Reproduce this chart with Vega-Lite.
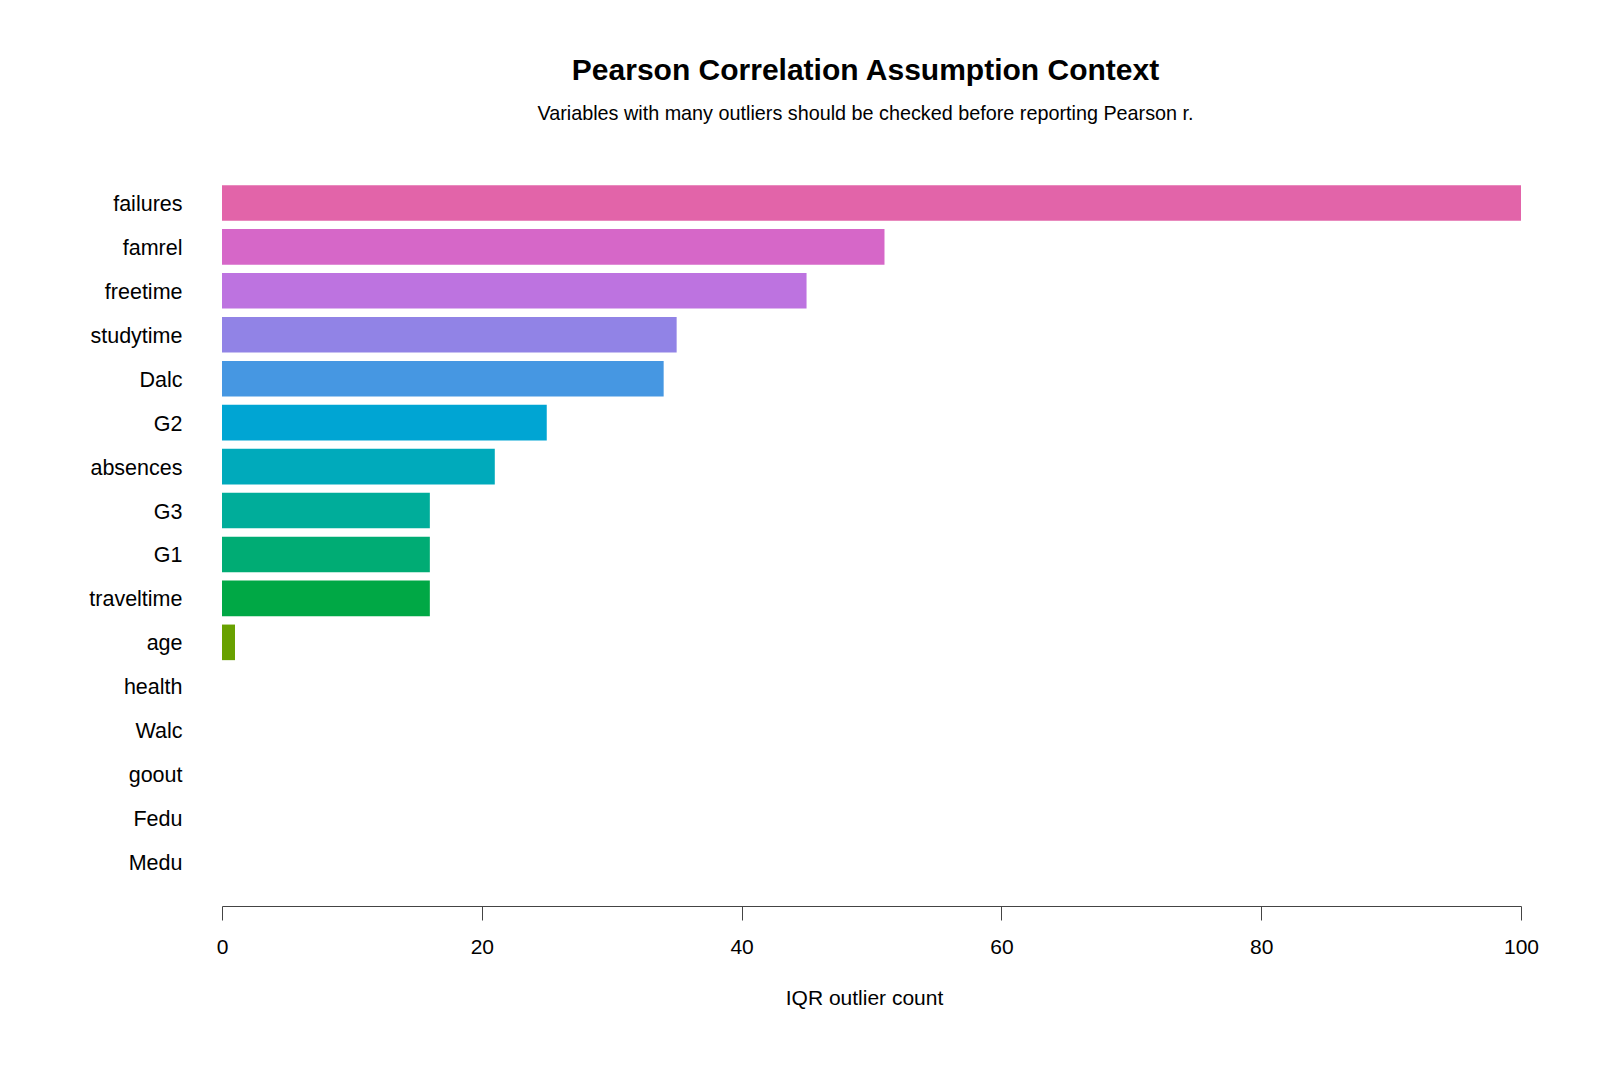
{
  "$schema": "https://vega.github.io/schema/vega-lite/v6.json",
  "autosize": {"type": "none"},
  "padding": {"left": 222, "top": 159, "right": 79, "bottom": 185},
  "width": 1299,
  "height": 747,
  "background": "white",
  "title": {
    "text": "Pearson Correlation Assumption Context",
    "subtitle": "Variables with many outliers should be checked before reporting Pearson r.",
    "anchor": "middle",
    "frame": "group",
    "dx": -6,
    "offset": 35,
    "font": "Liberation Sans",
    "fontSize": 30,
    "fontWeight": "bold",
    "color": "black",
    "subtitleFont": "Liberation Sans",
    "subtitleFontSize": 19.8,
    "subtitleColor": "black",
    "subtitlePadding": 18
  },
  "data": {
    "values": [
      {"variable": "failures", "count": 100, "rank": 1},
      {"variable": "famrel", "count": 51, "rank": 2},
      {"variable": "freetime", "count": 45, "rank": 3},
      {"variable": "studytime", "count": 35, "rank": 4},
      {"variable": "Dalc", "count": 34, "rank": 5},
      {"variable": "G2", "count": 25, "rank": 6},
      {"variable": "absences", "count": 21, "rank": 7},
      {"variable": "G3", "count": 16, "rank": 8},
      {"variable": "G1", "count": 16, "rank": 9},
      {"variable": "traveltime", "count": 16, "rank": 10},
      {"variable": "age", "count": 1, "rank": 11},
      {"variable": "health", "count": 0, "rank": 12},
      {"variable": "Walc", "count": 0, "rank": 13},
      {"variable": "goout", "count": 0, "rank": 14},
      {"variable": "Fedu", "count": 0, "rank": 15},
      {"variable": "Medu", "count": 0, "rank": 16}
    ]
  },
  "mark": {"type": "bar"},
  "encoding": {
    "y": {
      "field": "variable",
      "type": "nominal",
      "sort": {"field": "rank", "order": "ascending"},
      "scale": {"paddingInner": 0.19, "paddingOuter": 0.595},
      "axis": {
        "title": null,
        "domain": false,
        "ticks": false,
        "labelPadding": 40,
        "labelOffset": 2,
        "labelFont": "Liberation Sans",
        "labelFontSize": 21.5,
        "labelColor": "black"
      }
    },
    "x": {
      "field": "count",
      "type": "quantitative",
      "scale": {"domain": [0, 100], "nice": false, "zero": true},
      "axis": {
        "title": "IQR outlier count",
        "titleX": 642,
        "values": [0, 20, 40, 60, 80, 100],
        "grid": false,
        "labelFlush": false,
        "domainColor": "#444444",
        "tickColor": "#444444",
        "tickSize": 14,
        "labelPadding": 16,
        "labelFont": "Liberation Sans",
        "labelFontSize": 21,
        "labelColor": "black",
        "titleFont": "Liberation Sans",
        "titleFontSize": 21,
        "titleFontWeight": "normal",
        "titleColor": "black",
        "titlePadding": 30
      }
    },
    "color": {
      "field": "variable",
      "type": "nominal",
      "legend": null,
      "scale": {
        "domain": ["failures", "famrel", "freetime", "studytime", "Dalc", "G2", "absences", "G3", "G1", "traveltime", "age", "health", "Walc", "goout", "Fedu", "Medu"],
        "range": ["#E264A9", "#D667C8", "#BD73E0", "#9183E6", "#4697E2", "#00A5D3", "#00AABB", "#00AD9A", "#00AC74", "#00A845", "#68A100", "#8F9A00", "#AE9200", "#C68700", "#D77A2C", "#E06E5B"]
      }
    }
  },
  "config": {
    "view": {"stroke": null}
  }
}
